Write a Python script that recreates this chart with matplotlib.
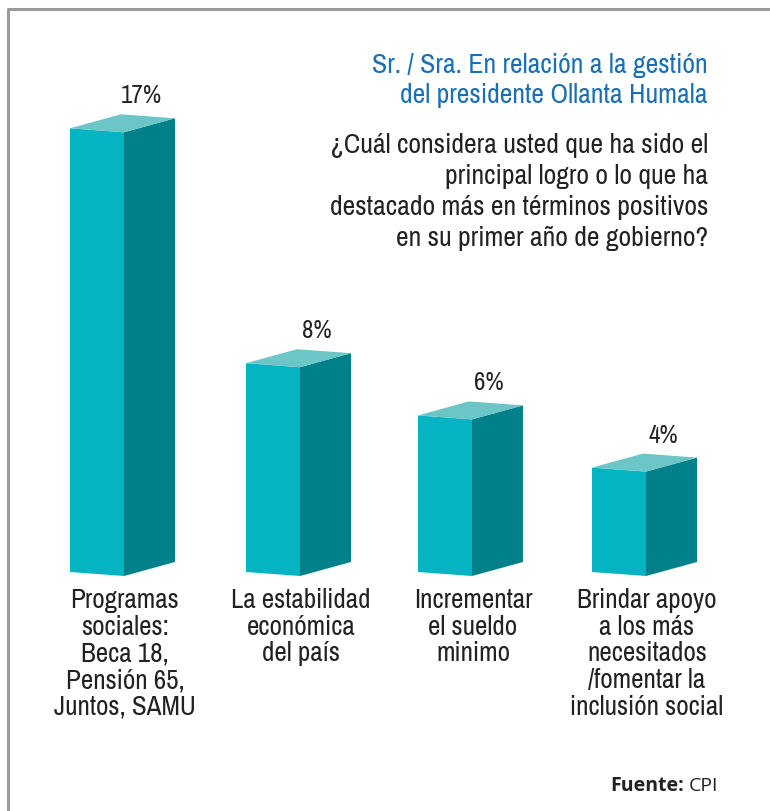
import numpy as np
import matplotlib.pyplot as plt
from matplotlib import font_manager
from matplotlib.patches import Polygon

# data
categories = ['Programas\nsociales:\nBeca 18,\nPensión 65,\nJuntos, SAMU',
              'La estabilidad\neconómica\ndel país',
              'Incrementar\nel sueldo\nminimo',
              'Brindar apoyo\na los más\nnecesitados\n/fomentar la\ninclusión social']
values = [17, 8, 6, 4]
value_labels = ['17%', '8%', '6%', '4%']

title_lines = ['Sr. / Sra. En relación a la gestión', 'del presidente Ollanta Humala']
question = ['¿Cuál considera usted que ha sido el', 'principal logro o lo que ha',
            'destacado más en términos positivos', 'en su primer año de gobierno?']

cond = {f.name for f in font_manager.fontManager.ttflist if f.stretch == 'condensed'}
narrow = sorted(cond)[0] if cond else 'DejaVu Sans'
fk = dict(family=narrow, fontstretch='condensed')

front_c = '#05b4c2'
side_c = '#00818a'
top_c = '#6cc5c6'
ink = '#222222'

fig = plt.figure(figsize=(7.7, 8.11), dpi=100)
ax = fig.add_axes([0, 0, 1, 1])
ax.set_xlim(0, 770)
ax.set_ylim(811, 0)
ax.axis('off')

# frame
ax.plot([8, 8, 770], [811, 9, 9], color='#9a9a9a', lw=2.2, solid_capstyle='projecting')

# 3d bars
x0 = [70, 246, 418, 592]
base = 572
scale = 26.1
fw, fs = 54, 4      # front width, slope
dw, ds = 51, -14    # depth offset
for i, v in enumerate(values):
    h = v * scale
    xl = x0[i]
    bl = (xl, base)
    br = (xl + fw, base + fs)
    tl = (xl, base - h)
    tr = (xl + fw, base - h + fs)
    ax.add_patch(Polygon([bl, br, tr, tl], closed=True, fc=front_c, ec='none'))
    ax.add_patch(Polygon([br, (br[0] + dw, br[1] + ds), (tr[0] + dw, tr[1] + ds), tr],
                         closed=True, fc=side_c, ec='none'))
    ax.add_patch(Polygon([tl, tr, (tr[0] + dw, tr[1] + ds), (tl[0] + dw, tl[1] + ds)],
                         closed=True, fc=top_c, ec='none'))
    ax.text(xl + fw + 17, base - h - 21, value_labels[i], ha='center', va='bottom',
            fontsize=18, color=ink, **fk)
    for j, line in enumerate(categories[i].split('\n')):
        ax.text(xl + 55, 608 + 26.7 * j, line, ha='center', va='baseline',
                fontsize=19.5, color=ink, **fk)

for j, line in enumerate(title_lines):
    ax.text(708, 73 + 30.5 * j, line, ha='right', va='baseline', fontsize=20,
            color='#1a6fb5', **fk)
for j, line in enumerate(question):
    ax.text(708, 153 + 31 * j, line, ha='right', va='baseline', fontsize=20,
            color=ink, **fk)

ax.text(684, 786, 'Fuente:', ha='right', va='center', fontsize=14, family='Open Sans',
        fontweight='bold', color=ink)
ax.text(689, 786, 'CPI', ha='left', va='center', fontsize=14, family='Open Sans',
        color=ink)

fig.savefig('out.png', dpi=100, facecolor='white')
